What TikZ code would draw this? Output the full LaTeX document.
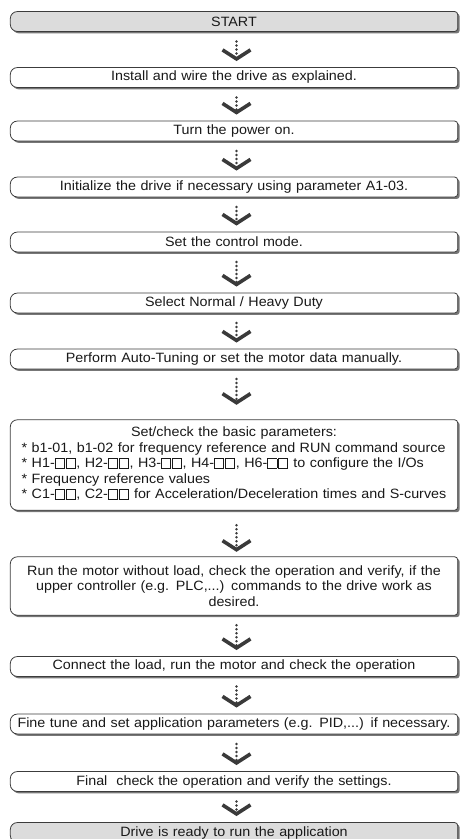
\documentclass[tikz,border=0pt]{standalone}
\usepackage{fontspec}
\setmainfont{Liberation Sans}[FakeStretch=1.06]
\usetikzlibrary{arrows.meta, backgrounds, calc}

\definecolor{framegray}{HTML}{3C3C3C}
\definecolor{endgray}{HTML}{DCDCDC}
\definecolor{shadowgray}{HTML}{777777}
\definecolor{arrowgray}{HTML}{3A3A3A}

\newcommand\sq{{\fboxsep=0pt\fboxrule=0.75pt\fbox{\rule{0pt}{8.5pt}\hspace{8.5pt}}}\kern0.8pt}

% frame: big round corners left, small ones right, shadow below right
\newcommand\stepframe[2]{%
  \fill[shadowgray] let \p1=(#1.south west), \p2=(#1.north east) in
    (\x1+9pt,\y2-2pt) -- (\x2-1pt,\y2-2pt) arc[start angle=90, end angle=0, radius=3pt]
    -- (\x2+2pt,\y1+1pt) arc[start angle=0, end angle=-90, radius=3pt]
    -- (\x1+9pt,\y1-2pt) arc[start angle=270, end angle=180, radius=7pt]
    -- (\x1+2pt,\y2-9pt) arc[start angle=180, end angle=90, radius=7pt] -- cycle;
  \filldraw[fill=#2, draw=framegray, line width=0.8pt] let \p1=(#1.south west), \p2=(#1.north east) in
    (\x1+7pt,\y2) -- (\x2-3pt,\y2) arc[start angle=90, end angle=0, radius=3pt]
    -- (\x2,\y1+3pt) arc[start angle=0, end angle=-90, radius=3pt]
    -- (\x1+7pt,\y1) arc[start angle=270, end angle=180, radius=7pt]
    -- (\x1,\y2-7pt) arc[start angle=180, end angle=90, radius=7pt] -- cycle;
}

\tikzset{
  stepbox/.style={text width=440pt, align=center, inner xsep=3.5pt, inner ysep=0pt,
    minimum height=19.5pt, text=black!90, font=\fontsize{13.5}{15.5}\selectfont},
  flowarrow/.style={draw=arrowgray, line width=2.7pt, line cap=round,
    dash pattern=on 0pt off 4pt,
    -{Straight Barb[length=9pt, width=28pt, line width=3.6pt]}},
}

\begin{document}
\begin{tikzpicture}[x=1pt, y=-1pt]
  \useasboundingbox (0,0) rectangle (460,839);

  \node[stepbox] (s0) at (234,21.5) {START};
  \node[stepbox] (s1) at (234,77.5) {Install and wire the drive as explained.};
  \node[stepbox] (s2) at (234,131) {Turn the power on.};
  \node[stepbox] (s3) at (234,187) {Initialize the drive if necessary using parameter A1-03.};
  \node[stepbox] (s4) at (234,242) {Set the control mode.};
  \node[stepbox] (s5) at (234,303) {Select Normal / Heavy Duty};
  \node[stepbox] (s6) at (234,359) {Perform Auto-Tuning or set the motor data manually.};
  \node[stepbox, minimum height=90pt] (s7) at (234,465) {Set/check the basic parameters:\\
    \begin{tabular}[t]{@{}l@{}}
      {*} b1-01, b1-02 for frequency reference and RUN command source\\
      {*} H1-\sq\sq, H2-\sq\sq, H3-\sq\sq, H4-\sq\sq, H6-\sq\sq{} to configure the I/Os\\
      {*} Frequency reference values\\
      {*} C1-\sq\sq, C2-\sq\sq{} for Acceleration/Deceleration times and S-curves
    \end{tabular}};
  \node[stepbox, minimum height=58pt] (s8) at (234,586) {Run the motor without load, check the operation and verify, if the\\
    upper controller (e.g. PLC,...) commands to the drive work as\\ desired.};
  \node[stepbox] (s9) at (234,666.5) {Connect the load, run the motor and check the operation};
  \node[stepbox] (s10) at (234,724) {Fine tune and set application parameters (e.g. PID,...) if necessary.};
  \node[stepbox] (s11) at (234,781.5) {Final\ \ check the operation and verify the settings.};
  \node[stepbox] (s12) at (234,832.5) {Drive is ready to run the application};

  \begin{scope}[on background layer]
    \stepframe{s0}{endgray}
    \foreach \i in {1,...,11}
      {\stepframe{s\i}{white}}
    \stepframe{s12}{endgray}
  \end{scope}

  \foreach \a/\b/\u/\v in {s0/s1/10pt/6.5pt, s1/s2/10pt/6.5pt, s2/s3/10pt/6.5pt,
      s3/s4/10pt/6.5pt, s4/s5/10pt/6.5pt, s5/s6/10pt/6.5pt, s6/s7/10pt/15pt,
      s7/s8/15pt/5pt, s8/s9/10pt/6.5pt, s9/s10/10pt/6.5pt, s10/s11/10pt/6.5pt,
      s11/s12/10pt/6.5pt}
    \draw[flowarrow, shorten <=\u, shorten >=\v] ([xshift=2.5pt]\a.south) -- ([xshift=2.5pt]\b.north);
\end{tikzpicture}
\end{document}
